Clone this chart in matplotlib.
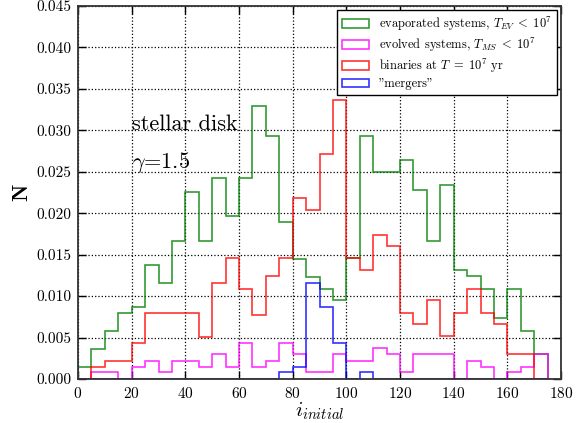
import numpy as np
import matplotlib
matplotlib.use("Agg")
import matplotlib.pyplot as plt

plt.rcParams['font.family'] = 'cmr10'
plt.rcParams['mathtext.fontset'] = 'cm'
plt.rcParams['axes.formatter.use_mathtext'] = True

# bin edges in degrees, width 5
edges = np.arange(0, 180, 5)

# normalised counts per bin
evaporated = [0.0015, 0.0036, 0.0058, 0.0080, 0.0087, 0.0138, 0.0116, 0.0167,
              0.0225, 0.0167, 0.0242, 0.0197, 0.0242, 0.0329, 0.0293, 0.0189,
              0.0145, 0.0123, 0.0109, 0.0095, 0.0146, 0.0293, 0.0250, 0.0250,
              0.0264, 0.0228, 0.0167, 0.0234, 0.0131, 0.0124, 0.0109, 0.0073,
              0.0109, 0.0058, 0.0030]
evolved = [0.0, 0.0008, 0.0008, 0.0, 0.0015, 0.0022, 0.0008, 0.0022,
           0.0022, 0.0015, 0.0030, 0.0015, 0.0044, 0.0015, 0.0022, 0.0044,
           0.0030, 0.0008, 0.0008, 0.0030, 0.0022, 0.0022, 0.0037, 0.0030,
           0.0008, 0.0030, 0.0030, 0.0030, 0.0, 0.0022, 0.0015, 0.0,
           0.0008, 0.0015, 0.0030]
binaries = [0.0, 0.0015, 0.0022, 0.0022, 0.0044, 0.0080, 0.0080, 0.0080,
            0.0080, 0.0051, 0.0116, 0.0146, 0.0109, 0.0077, 0.0124, 0.0146,
            0.0218, 0.0204, 0.0271, 0.0336, 0.0146, 0.0131, 0.0174, 0.0160,
            0.0080, 0.0066, 0.0095, 0.0052, 0.0080, 0.0109, 0.0080, 0.0066,
            0.0030, 0.0030, 0.0]
mergers = [0.0] * 15 + [0.0008, 0.0015, 0.0116, 0.0087, 0.0044, 0.0, 0.0008] + [0.0] * 13

series = [
    (evaporated, 'green', r'evaporated systems, $T_{EV}\;<\;10^7$'),
    (evolved, 'magenta', r'evolved systems, $T_{MS}\;<\;10^7$'),
    (binaries, 'red', r'binaries at $T\;=\;10^7$ yr'),
    (mergers, 'blue', '"mergers"'),
]

fig = plt.figure(figsize=(5.84, 4.23), dpi=100)
ax = fig.add_axes([78 / 584, 44 / 423, 483 / 584, 373 / 423])

centers = edges[:-1] + 2.5
for vals, col, lab in series:
    ax.hist(centers, bins=edges, weights=vals, histtype='step', color=col,
            linewidth=1.2, alpha=0.8, label=lab)

ax.set_xlim(0, 180)
ax.set_ylim(0, 0.045)
ax.set_xticks(np.arange(0, 181, 20))
ax.set_yticks(np.arange(0, 0.0451, 0.005))
ax.yaxis.set_major_formatter(matplotlib.ticker.FormatStrFormatter('%.3f'))
ax.tick_params(direction='in', top=True, right=True, length=6, width=1,
               labelsize=11, pad=5)
ax.grid(True, linestyle=':', color='black', linewidth=0.9)
for s in ax.spines.values():
    s.set_linewidth(1.3)
    s.set_color('#333333')

ax.set_xlabel(r'$i_{initial}$', fontsize=15, labelpad=0)
ax.set_ylabel(r'$\mathbf{N}$', fontsize=16, labelpad=3)

ax.text(20, 0.0300, 'stellar disk', fontsize=16)
ax.text(20, 0.0255, r'$\gamma$=1.5', fontsize=16)

leg = ax.legend(loc='upper right', fontsize=9, fancybox=False,
                framealpha=1, edgecolor='black', borderaxespad=0.3,
                labelspacing=0.25, handlelength=2.2, borderpad=0.4)
leg.get_frame().set_linewidth(1.0)

fig.savefig('out.png', dpi=100)
